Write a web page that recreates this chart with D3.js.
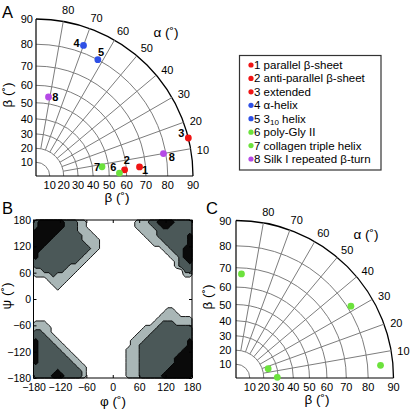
<!DOCTYPE html>
<html><head><meta charset="utf-8">
<script src="https://cdn.jsdelivr.net/npm/d3@7"></script>
<style>
body{margin:0;background:#fff}
svg{display:block}
text{font-family:"Liberation Sans",Arial,Helvetica,sans-serif;fill:#000}
</style>
</head><body>
<svg id="c" width="410" height="410"></svg>
<script>
// ---------- data ----------
const betaTicks = [10,20,30,40,50,60,70,80,90];
const alphaTicks = [10,20,30,40,50,60,70,80];
const pointIdsA = ["1","2","3","4","5","6","7","8","8"];
const pointAlphaA = [5,4,14,70,62,2,8,81,10];
const pointBetaA = [67,59,90,83,80,56,46,54,79];
const pointGroupA = [0,0,0,1,1,2,2,3,3];
const pointAlphaC = [87,32,5,16,1];
const pointBetaC = [67,81.4,85.3,24,29.4];
const legendLabels = ["1 parallel β-sheet","2 anti-parallel β-sheet","3 extended","4 α-helix","5 3_10 helix","6 poly-Gly II","7 collagen triple helix","8 Silk I repeated β-turn"];
const legendGroup = [0,0,0,1,1,2,2,3];
const phiTicks = [-180,-120,-60,0,60,120,180];
const psiTicks = [180,120,60,0,-60,-120,-180];
const contourLevels = [0.5,1.5,2.5];
// Ramachandran region levels, 10-degree cells; rows psi 175 -> -175, columns phi -175 -> 175
const ramaGrid = [
"233333322211000000000001112233332222",
"233333322211000000000001111223322222",
"333333222211100000000000111122222222",
"333332222221110000000000011122222223",
"333322222221111000000000001112222223",
"333222222222111000000000000111222223",
"332222222222211000000000000001122233",
"322222222222110000000000000000112233",
"322222222221100000000000000000011233",
"222222222211000000000000000000001223",
"222222221110000000000000000000001222",
"112222211100000000000000000000000022",
"111121111000000000000000000000000011",
"000111110000000000000000000000000000",
"000011100000000000000000000000000000",
"000001000000000000000000000000000000",
"000000000000000000000000000000000000",
"000000000000000000000000000000000000",
"000000000000000000000000000000000000",
"000000000000000000000000000000000000",
"000000000000000000000000000000110000",
"000000000000000000000000000001111000",
"000000000000000000000000000011111111",
"111000000000000000000000000112221111",
"111100000000000000000000011122222222",
"221100000000000000000000111222222222",
"222110000000000000000001112222222222",
"322211000000000000000011122222222223",
"322221100000000000000011222222222223",
"322222110000000000000111222222222233",
"322222211000000000000111222222222333",
"322222221100000000000111222222223333",
"322222222110000000000111222222223333",
"222222222211000000000111222222233333",
"222223222221000000000111222222333333",
"222233322221000000000111222223333333"
];

// ---------- styles ----------
const groupColors = ["#f01414","#2e50e6","#6ce23c","#b54ae6"];
const levelColors = ["#a9b6b6","#4b5858","#0a0a0a"];
const labelOffA = [[5.5,3.3],[2.3,-9.7],[-7,-4.7],[-7,-2.6],[3.3,-7.7],[-6,-6.3],[-5,0],[6.7,0],[8.4,3.3]];

const svg = d3.select("#c");

function polar(ox, oy, R, yGap, alphas, betas, colors, ids, offs) {
  const g = svg.append("g");
  const rs = d3.scaleLinear().domain([0,1]).range([0,R]);
  const rad = b => rs(Math.tan(b*Math.PI/360));
  const ang = d3.scaleLinear().domain([0,180]).range([0,Math.PI]);
  const px = (a,b) => ox + rad(b)*Math.cos(ang(a));
  const py = (a,b) => oy - rad(b)*Math.sin(ang(a));
  // grid arcs
  betaTicks.forEach(b => {
    const p = d3.path();
    p.moveTo(ox+rad(b), oy);
    p.arc(ox, oy, rad(b), 0, -Math.PI/2, true);
    g.append("path").attr("d", p.toString()).attr("fill","none")
      .attr("stroke", b===90 ? "#000" : "#7d7d7d")
      .attr("stroke-width", b===90 ? 1.3 : 1);
  });
  alphaTicks.forEach(a => {
    g.append("line").attr("x1",px(a,20)).attr("y1",py(a,20))
      .attr("x2",px(a,90)).attr("y2",py(a,90))
      .attr("stroke","#7d7d7d").attr("stroke-width",1);
  });
  // axes
  g.append("line").attr("x1",ox).attr("y1",oy).attr("x2",ox+R).attr("y2",oy).attr("stroke","#000").attr("stroke-width",1.2);
  g.append("line").attr("x1",ox).attr("y1",oy).attr("x2",ox).attr("y2",oy-R).attr("stroke","#000").attr("stroke-width",1.2);
  // tick labels
  betaTicks.forEach(b => {
    g.append("text").attr("x", ox+rad(b)).attr("y", oy+13).attr("text-anchor","middle")
      .attr("font-size",11).text(b);
    g.append("text").attr("x", ox-yGap).attr("y", oy-rad(b)+4).attr("text-anchor","end")
      .attr("font-size",11).text(b);
  });
  alphaTicks.forEach(a => {
    const rr = R + 12, aa = ang(a-1);
    g.append("text").attr("x", ox+rr*Math.cos(aa)).attr("y", oy-rr*Math.sin(aa)+4)
      .attr("text-anchor","middle").attr("font-size",11).text(a);
  });
  g.append("text").attr("x", ox+130).attr("y", oy-139).attr("text-anchor","middle")
    .attr("font-size",13.5).text("α (˚)");
  g.append("text").attr("x", ox+81).attr("y", oy+26).attr("text-anchor","middle")
    .attr("font-size",13.5).text("β (˚)");
  g.append("text").attr("transform",`translate(${ox-24},${oy-81}) rotate(-90)`)
    .attr("text-anchor","middle").attr("font-size",13.5).text("β (˚)");
  // points
  alphas.forEach((a,i) => {
    g.append("circle").attr("cx",px(a,betas[i])).attr("cy",py(a,betas[i]))
      .attr("r",3.4).attr("fill",colors[i]);
    if (ids) {
      g.append("text").attr("x",px(a,betas[i])+offs[i][0]).attr("y",py(a,betas[i])+offs[i][1]+4)
        .attr("text-anchor","middle").attr("font-size",11).attr("font-weight","bold").text(ids[i]);
    }
  });
}

polar(36, 176, 157, 3, pointAlphaA, pointBetaA, pointGroupA.map(k=>groupColors[k]), pointIdsA, labelOffA);
polar(236, 378, 157.5, 4.5, pointAlphaC, pointBetaC, pointAlphaC.map(()=>groupColors[2]), null, null);

// legend
const lg = svg.append("g");
lg.append("rect").attr("x",239.5).attr("y",55.5).attr("width",141.5).attr("height",114.5)
  .attr("fill","#fff").attr("stroke","#333").attr("stroke-width",1.2);
const ly = d3.scaleLinear().domain([0,7]).range([65,159]);
legendLabels.forEach((lab,i) => {
  lg.append("circle").attr("cx",251).attr("cy",ly(i)).attr("r",2.6).attr("fill",groupColors[legendGroup[i]]);
  const t = lg.append("text").attr("x",254).attr("y",ly(i)+4).attr("font-size",11.5);
  lab.split(/_(\d+)/).forEach((part,k) => {
    if (k%2===1) t.append("tspan").attr("font-size",8).attr("dy",2.5).text(part);
    else t.append("tspan").attr("dy", k>0 ? -2.5 : 0).text(part);
  });
});

// panel B
const xB = d3.scaleLinear().domain([-180,180]).range([33.5,192]);
const yB = d3.scaleLinear().domain([-180,180]).range([378,220]);
const gB = svg.append("g");
const nRows = ramaGrid.length, nCols = ramaGrid[0].length;
const bad = ramaGrid.some(r => r.length !== nCols);
const values = ramaGrid.flatMap(r => r.split("").map(Number));
const gx = d3.scaleLinear().domain([0,nCols]).range([-180,180]);
const gy = d3.scaleLinear().domain([0,nRows]).range([180,-180]);
const proj = d3.geoTransform({point(x,y){ this.stream.point(xB(gx(x)), yB(gy(y))); }});
const cpath = d3.geoPath(proj);
const contours = d3.contours().size([nCols,nRows]).thresholds(contourLevels)(values);
gB.selectAll("path.lv").data(contours).join("path").attr("class","lv")
  .attr("d", cpath).attr("fill",(d,i)=>levelColors[i]).attr("stroke","#000").attr("stroke-width",0.9)
  .attr("stroke-linejoin","round");
if (bad) gB.append("text").attr("x",40).attr("y",300).attr("fill","red").text("ROW LEN ERR");
const fmt = d => d<0 ? "\u2212"+Math.abs(d) : String(d);
const styleAxis = s => { s.select(".domain").remove(); s.selectAll("line").attr("stroke","#000"); s.selectAll("text").attr("font-size",10.5).attr("font-family",'"Liberation Sans",Arial,sans-serif').attr("fill","#000"); };
gB.append("g").attr("transform","translate(0,378)")
  .call(d3.axisBottom(xB).tickValues(phiTicks).tickSize(-3).tickPadding(5.5).tickFormat(fmt)).call(styleAxis);
gB.append("g").attr("transform","translate(33.5,0)")
  .call(d3.axisLeft(yB).tickValues(psiTicks).tickSize(-3).tickPadding(2.5).tickFormat(fmt)).call(styleAxis);
gB.append("g").attr("transform","translate(0,220)")
  .call(d3.axisTop(xB).tickValues(phiTicks).tickSize(-3).tickFormat("")).call(styleAxis);
gB.append("g").attr("transform","translate(192,0)")
  .call(d3.axisRight(yB).tickValues(psiTicks).tickSize(-3).tickFormat("")).call(styleAxis);
gB.append("rect").attr("x",33.5).attr("y",220).attr("width",158.5).attr("height",158)
  .attr("fill","none").attr("stroke","#000").attr("stroke-width",1);
gB.append("text").attr("x",113).attr("y",406).attr("text-anchor","middle").attr("font-size",13.5).text("φ (˚)");
gB.append("text").attr("transform","translate(11,296) rotate(-90)").attr("text-anchor","middle").attr("font-size",13.5).text("ψ (˚)");

// panel letters
svg.append("text").attr("x",2).attr("y",18).attr("font-size",16.5).text("A");
svg.append("text").attr("x",2).attr("y",214).attr("font-size",16.5).text("B");
svg.append("text").attr("x",206).attr("y",214).attr("font-size",16.5).text("C");
</script>
</body></html>
